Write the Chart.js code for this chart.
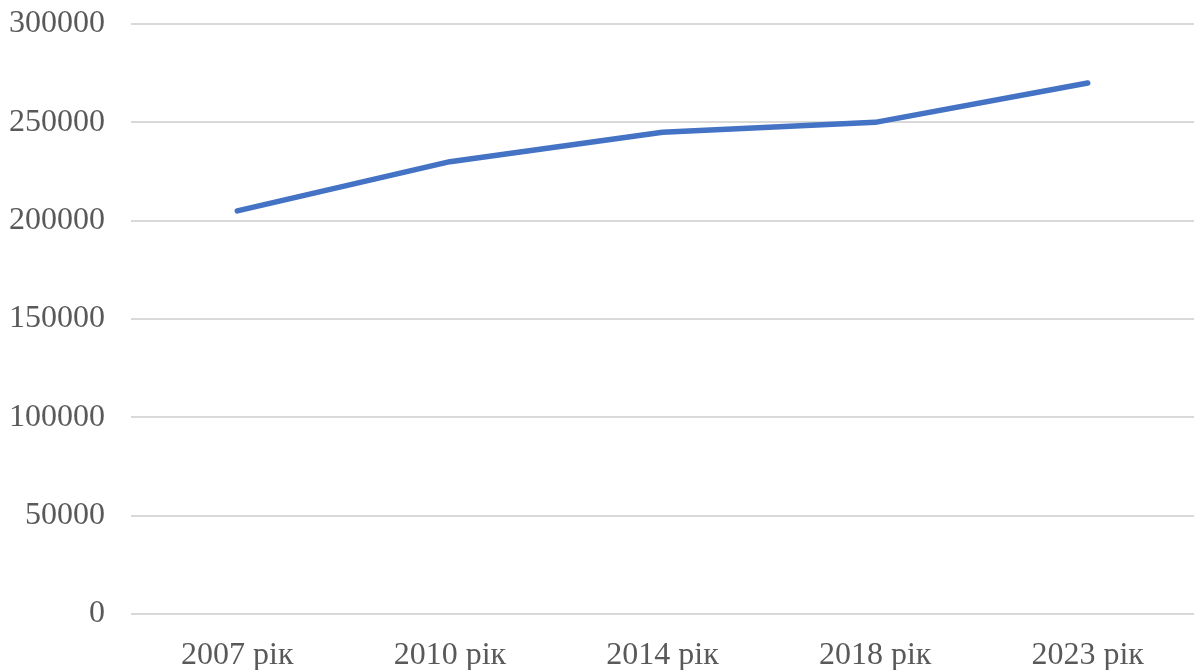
<!DOCTYPE html>
<html>
<head>
<meta charset="utf-8">
<script src="https://cdn.jsdelivr.net/npm/chart.js@4/dist/chart.umd.min.js"></script>
<style>
html,body{margin:0;padding:0;background:#fff;}
#c{display:block;}
</style>
</head>
<body>
<canvas id="c" width="1199" height="670"></canvas>
<script>
const categories = ["2007 рік", "2010 рік", "2014 рік", "2018 рік", "2023 рік"];
const values = [205000, 230000, 245000, 250000, 270000];
const yMin = 0, yMax = 300000, yStep = 50000;

new Chart(document.getElementById('c'), {
  type: 'line',
  data: {
    labels: categories,
    datasets: [{
      data: values,
      borderColor: '#4472c4',
      borderWidth: 5.5,
      pointRadius: 0,
      borderCapStyle: 'round',
      borderJoinStyle: 'round',
      tension: 0,
      fill: false
    }]
  },
  options: {
    responsive: false,
    animation: false,
    devicePixelRatio: 1,
    layout: { padding: { top: 24, right: 5, left: 0, bottom: 0 } },
    plugins: { legend: { display: false }, tooltip: { enabled: false } },
    scales: {
      x: {
        offset: true,
        grid: { display: false, drawTicks: false },
        border: { display: false },
        ticks: { color: '#595959', font: { family: 'Liberation Serif', size: 32 }, padding: 22, maxRotation: 0 },
        afterFit: s => { s.height = 56; s.paddingLeft = 0; s.paddingRight = 0; }
      },
      y: {
        min: yMin, max: yMax,
        grid: { color: '#d9d9d9', lineWidth: 2, drawTicks: false },
        border: { display: false },
        ticks: { stepSize: yStep, color: '#595959', font: { family: 'Liberation Serif', size: 32 }, padding: 26,
                 callback: v => String(v) },
        afterFit: s => { s.width = 131; s.paddingTop = 0; s.paddingBottom = 0; }
      }
    }
  }
});
</script>
</body>
</html>
